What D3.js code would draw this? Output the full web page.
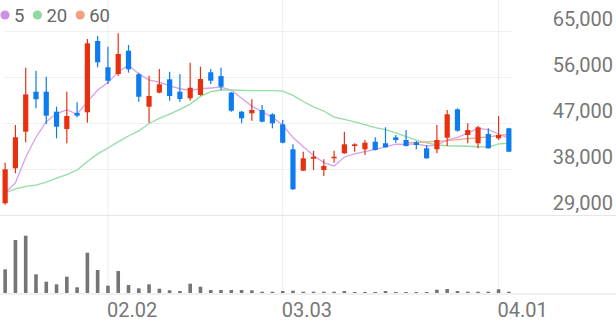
<!DOCTYPE html>
<html lang="ko">
<head>
<meta charset="UTF-8">
<title>주가 차트</title>
<script src="https://d3js.org/d3.v7.min.js"></script>
<style>
  body { margin: 0; background: #fff; font-family: Roboto, sans-serif; }
  svg { display: block; }
  .axis text { font-family: Roboto, sans-serif; }
</style>
</head>
<body>
<div id="chart"></div>
<script>
// daily candles, oldest first
const opens  = [31400,38240,45400,53220,53220,49310,45920,49060,49190,63140,
                58000,56690,61240,56630,50290,53030,55650,53220,51930,52580,
                57020,56290,53030,49310,49000,49640,48800,46840,41950,37770,
                40100,37900,40190,41170,42600,41950,43440,43130,44300,43770,
                43320,42150,41950,44220,49780,44750,43130,44950,44100,46060];
const highs  = [39330,46700,57900,57330,56160,50290,53220,51150,63530,64120,
                62030,64650,62360,56940,56350,57660,57140,56690,58900,58110,
                57660,57920,53220,49450,51740,50620,49000,47690,42930,41480,
                41650,40000,41680,45400,43130,43770,44300,46260,44750,45730,
                43580,42790,46710,49640,49970,47040,46510,46060,48470,46180];
const lows   = [31100,37260,43320,49970,46900,44100,43130,48210,47160,58000,
                54730,56290,56940,51270,47160,52910,51460,51270,51460,52440,
                54730,53550,49310,47040,47550,47240,46060,43130,34000,37700,
                37900,36730,39330,41100,41480,40840,41700,42300,43240,42500,
                41950,40100,41170,42600,45400,43130,42150,42100,43770,41400];
const closes = [38040,44300,52700,51740,48530,46370,48470,48530,62690,58970,
                55370,60600,57600,52240,52380,54670,52380,51790,54000,55710,
                55370,54200,49500,48020,49640,47350,47040,43240,34130,40190,
                40500,38690,40500,42930,42930,43240,41820,42350,43770,42600,
                42790,40190,43770,48800,45590,45730,46260,42150,44750,41480];
const volumes = [1185,2650,2865,935,565,435,815,285,2015,1150,
                 365,1100,400,235,435,215,135,100,465,315,
                 150,150,150,150,135,65,65,100,115,65,
                 65,65,65,100,50,50,50,100,50,50,
                 50,50,165,200,100,65,65,65,185,65];
const ma5  = [33400,35400,40400,44300,47350,48950,49650,48850,51250,53550,
              55000,57100,58450,56700,55500,55100,54350,53800,53500,53800,
              53950,54100,53550,51950,50400,49300,48200,46700,44250,42450,
              40750,39350,38700,40450,41050,41500,41950,42450,42950,42900,
              43000,42600,42800,43750,44300,45100,46050,45800,44950,44100];
const ma20 = [33400,34200,34700,34950,35550,36300,37000,37900,39550,41050,
              42200,43400,44550,45550,47000,48000,48850,49750,50800,52300,
              53250,53550,53550,53500,53450,53450,53450,53350,52500,51300,
              50250,49450,48250,47800,47300,46800,46200,45800,45150,44450,
              43750,43200,42800,42650,42600,42550,42450,42400,43000,43100];
const ma60 = [null,null,null,null,null,null,null,null,null,null,
              null,null,null,null,null,null,null,null,null,null,
              null,null,null,null,null,null,null,null,null,null,
              null,null,null,null,null,null,null,null,null,43200,
              43300,43400,43500,43650,43850,44050,44200,44400,44650,44850];

const priceTicks = [29000, 38000, 47000, 56000, 65000];
const dateTickIdx = [10, 27, 48];
const dateTickLabels = ["02.02", "03.03", "04.01"];
const maNames  = ["5", "20", "60"];
const maColors = ["#d9a0ec", "#94dca5", "#f6a585"];
const legendColors = ["#cf8fe6", "#8dd9a0", "#f5a07f"];

const W = 616, H = 321;
const UP = "#e8300f", DOWN = "#0c7cf0";
const n = closes.length;

const svg = d3.select("#chart").append("svg")
  .attr("width", W).attr("height", H);

const x = d3.scaleBand().domain(d3.range(n)).range([0, 514]);
const cx = i => x(i) + x.bandwidth() / 2;
const y = d3.scaleLinear().domain([29000, 65000]).range([215.5, 31.5]);
const yv = d3.scaleLinear().domain([0, d3.max(volumes)]).range([293, 235.7]);

// grid
svg.append("g").selectAll("line").data(priceTicks.filter(t => t !== 29000)).join("line")
  .attr("x1", 3).attr("x2", 512)
  .attr("y1", d => y(d)).attr("y2", d => y(d))
  .attr("stroke", "#f0f0f0").attr("stroke-width", 1.2);

svg.append("g").selectAll("line").data(dateTickIdx).join("line")
  .attr("x1", d => cx(d)).attr("x2", d => cx(d))
  .attr("y1", 0).attr("y2", 294)
  .attr("stroke", "#f0f0f0").attr("stroke-width", 1.2);

svg.append("line").attr("x1", 0).attr("x2", W)
  .attr("y1", y(29000)).attr("y2", y(29000))
  .attr("stroke", "#e6e6e6").attr("stroke-width", 1.2);
svg.append("line").attr("x1", 0).attr("x2", W)
  .attr("y1", 294).attr("y2", 294)
  .attr("stroke", "#e2e2e2").attr("stroke-width", 1.2);

// price labels
const yAxis = d3.axisLeft(y).tickValues(priceTicks).tickSize(0).tickPadding(0)
  .tickFormat(d3.format(","));
const yg = svg.append("g").attr("class", "axis").attr("transform", "translate(613,0)").call(yAxis);
yg.select(".domain").remove();
yg.selectAll("text").attr("dy", -6.5).attr("fill", "#777").attr("font-size", 20);

// date labels
const xAxis = d3.axisBottom(x).tickValues(dateTickIdx).tickSize(0).tickPadding(0)
  .tickFormat((d, k) => dateTickLabels[k]);
const xg = svg.append("g").attr("class", "axis").attr("transform", "translate(-1,316.5)").call(xAxis);
xg.select(".domain").remove();
xg.selectAll("text").attr("dy", 0).attr("y", 0).attr("text-anchor", "start")
  .attr("fill", "#777").attr("font-size", 20);

// volume
svg.append("g").selectAll("rect").data(volumes).join("rect")
  .attr("x", (d, i) => cx(i) - 1.8).attr("width", 3.6)
  .attr("y", d => yv(d)).attr("height", d => 293 - yv(d))
  .attr("fill", "#757575");

// moving averages
[ma5, ma20, ma60].forEach((ma, k) => {
  const line = d3.line().defined(d => d != null).x((d, i) => cx(i)).y(d => y(d));
  svg.append("path").datum(ma).attr("d", line)
    .attr("fill", "none").attr("stroke", maColors[k]).attr("stroke-width", 1.3);
});

// candles
const candles = svg.append("g").selectAll("g").data(d3.range(n)).join("g")
  .attr("fill", i => closes[i] >= opens[i] ? UP : DOWN)
  .attr("stroke", i => closes[i] >= opens[i] ? UP : DOWN);
candles.append("line")
  .attr("x1", i => cx(i)).attr("x2", i => cx(i))
  .attr("y1", i => y(highs[i])).attr("y2", i => y(lows[i]))
  .attr("stroke-width", 1.2);
candles.append("rect")
  .attr("x", i => cx(i) - 2.6).attr("width", 5.2)
  .attr("y", i => y(Math.max(opens[i], closes[i])))
  .attr("height", i => Math.max(1.5, Math.abs(y(opens[i]) - y(closes[i]))))
  .attr("stroke", "none");

// legend
let lx = 5;
const legend = svg.append("g");
maNames.forEach((name, k) => {
  legend.append("circle").attr("cx", lx).attr("cy", 15).attr("r", 4.6).attr("fill", legendColors[k]);
  const t = legend.append("text").attr("x", lx + 9).attr("y", 21.5)
    .attr("font-size", 18.5).attr("fill", "#666").text(name);
  lx += 9 + t.node().getComputedTextLength() + 13;
});
</script>
</body>
</html>
